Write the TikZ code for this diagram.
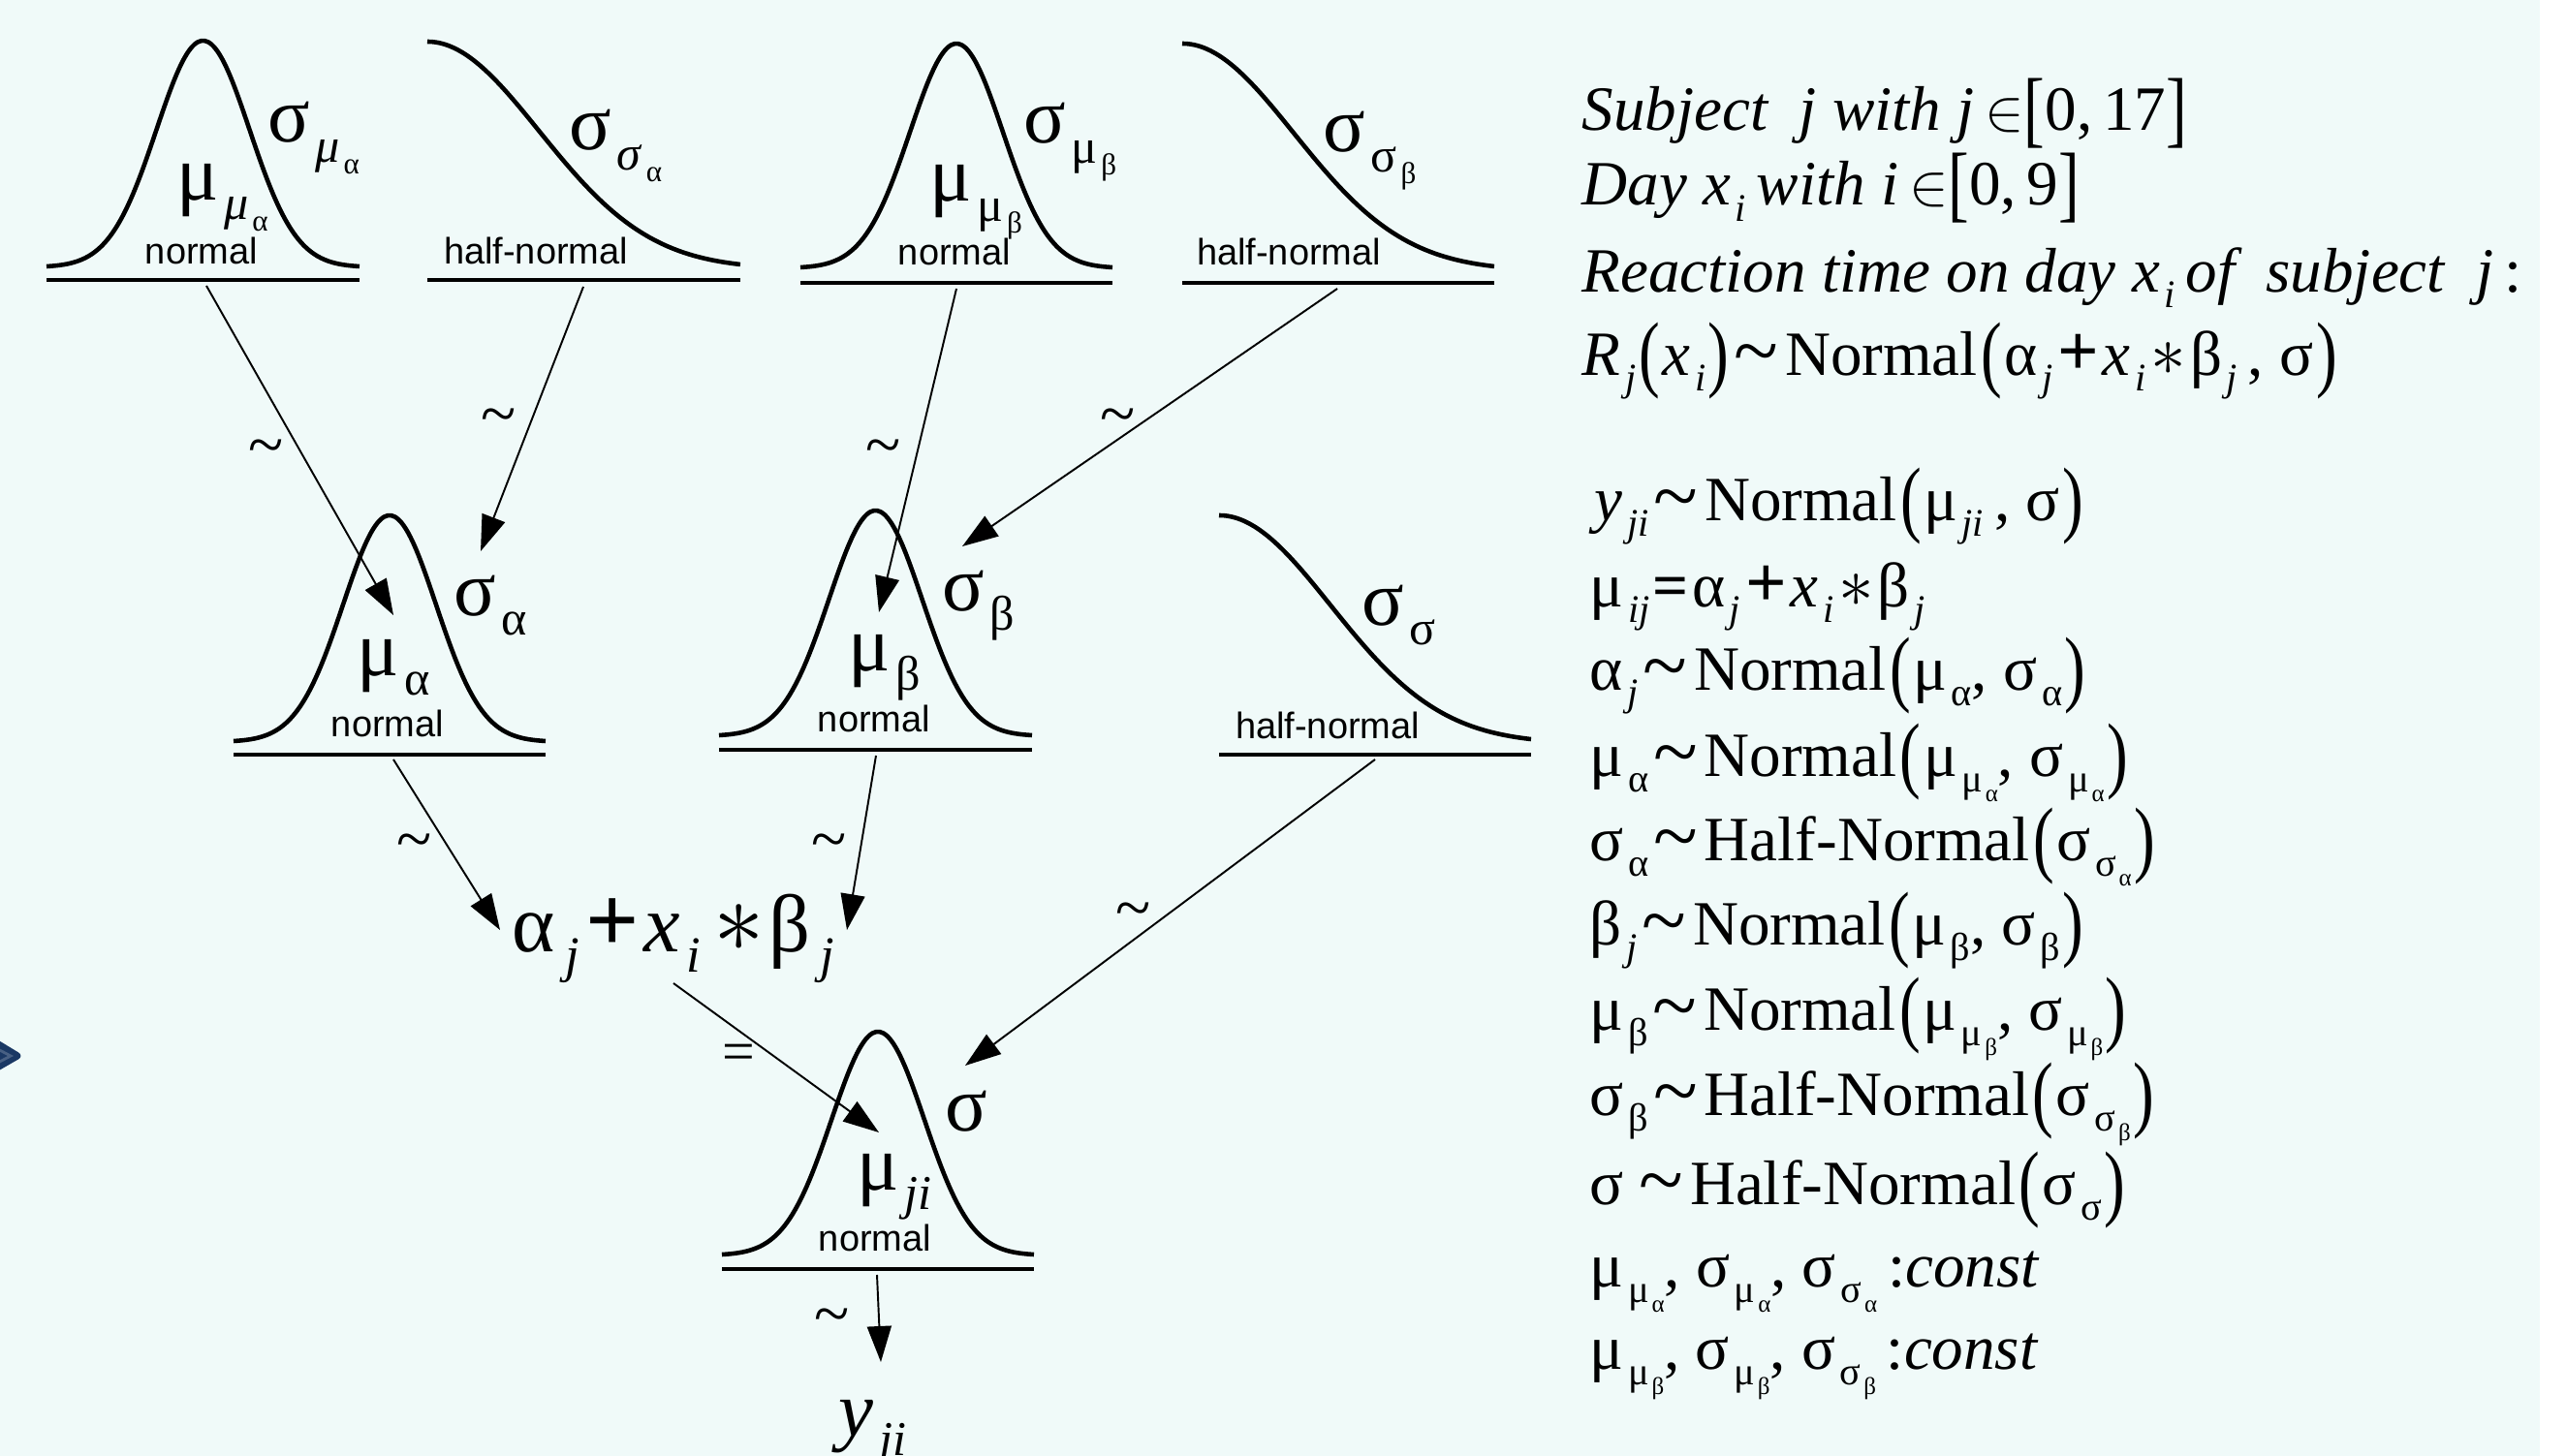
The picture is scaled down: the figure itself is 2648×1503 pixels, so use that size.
\documentclass[tikz,border=0pt]{standalone}
\usepackage{fontspec}
\setmainfont{Liberation Serif}
\newfontfamily\arialf{Liberation Sans}
\usetikzlibrary{arrows.meta}
\definecolor{bgc}{RGB}{240,250,249}
\definecolor{navy}{RGB}{26,56,100}
\newcommand\subx[1]{\hspace{0.07em}\raisebox{-0.25em}{\scalebox{0.62}{#1}}}
\newcommand\lp{\hspace{0.05em}\raisebox{-0.1em}{\scalebox{1}[1.34]{(}}\hspace{0.04em}}
\newcommand\rp{\hspace{0.04em}\raisebox{-0.1em}{\scalebox{1}[1.34]{)}}}
\newcommand\lbk{\raisebox{-0.1em}{\scalebox{1}[1.34]{[}}}
\newcommand\rbk{\raisebox{-0.1em}{\scalebox{1}[1.34]{]}}}
\newcommand\tld{\hspace{0.08em}\raisebox{-0.05em}{\scalebox{1.3}{\textasciitilde}}\hspace{0.1em}}
\newcommand\pls{\hspace{0.08em}\scalebox{1.15}{\textbf{+}}\hspace{0.06em}}
\newcommand\astk{\hspace{0.08em}\scalebox{1.2}{$\ast$}\hspace{0.06em}}
\newcommand\normc[4]{\draw[curve] plot[domain=-3.36:3.36,samples=90,smooth] ({#1+#3/2+#3/6.72*\x},{#2-#4*exp(-0.5*(\x)*(\x))});}
\newcommand\halfc[4]{\draw[curve] plot[domain=0:2.8,samples=70,smooth] ({#1+#3/2.8*\x},{#2-#4*exp(-0.5*(\x)*(\x))});}
\begin{document}
\begin{tikzpicture}[x=0.01cm,y=-0.01cm,
  curve/.style={line width=1.3pt},
  uline/.style={line width=1pt},
  conn/.style={line width=0.55pt,-{Triangle[length=3.7mm,width=2.5mm]}},
  gk/.style={font=\fontsize{23}{23}\selectfont,inner sep=0,anchor=base west},
  lab/.style={font=\arialf\fontsize{10.8}{11}\selectfont,inner sep=0,anchor=base},
  tl/.style={font=\fontsize{19}{19}\selectfont,inner sep=0},
  rt/.style={font=\fontsize{18.5}{18.5}\selectfont,inner sep=0,anchor=base west},
  expr/.style={font=\fontsize{24}{24}\selectfont,inner sep=0,anchor=base west}]
\useasboundingbox (0,0) rectangle (2648,1503);
\fill[white] (0,0) rectangle (2648,1503);
\fill[bgc] (0,0) rectangle (2621,1503);
% left chevron
\fill[navy,rounded corners=2pt] (-8,1070) -- (25,1090) -- (-8,1109) -- cycle;
\draw[navy!80!white,line width=0.8pt] (-8,1080) -- (11,1090) -- (-8,1100);
% ---------- top row ----------
\normc{48}{275.8}{323}{233.8}
\draw[uline] (48,289) -- (371,289);
\node[gk] (n1mu) at (182,206) {μ\subx{\textit{μ}\subx{α}}};
\node[gk] (n1sg) at (276,147) {σ\subx{\textit{μ}\subx{α}}};
\node[lab] (n1lab) at (208,272) {normal};
\coordinate (n1out) at (213,295);
\halfc{441}{277.6}{323}{234.6}
\draw[uline] (441,289) -- (764,289);
\node[gk] (h1sg) at (587,155) {σ\subx{\textit{σ}\subx{α}}};
\node[lab] (h1lab) at (553,272) {half-normal};
\coordinate (h1out) at (602,296);
\normc{826}{276.8}{322}{231.8}
\draw[uline] (826,292) -- (1148,292);
\node[gk] (n2mu) at (959,208) {μ\subx{μ\subx{β}}};
\node[gk] (n2sg) at (1056,148) {σ\subx{μ\subx{β}}};
\node[lab] (n2lab) at (985,274) {normal};
\coordinate (n2out) at (987,298);
\halfc{1220}{279.6}{322}{234.6}
\draw[uline] (1220,292) -- (1542,292);
\node[gk] (h2sg) at (1365,157) {σ\subx{σ\subx{β}}};
\node[lab] (h2lab) at (1330,274) {half-normal};
\coordinate (h2out) at (1380,298);
% ---------- middle row ----------
\normc{241}{765.8}{322}{233.8}
\draw[uline] (241,779) -- (563,779);
\node[gk] (n3mu) at (368,697) {μ\subx{α}};
\node[gk] (n3sg) at (468,635) {σ\subx{α}};
\node[lab] (n3lab) at (400,760) {normal};
\coordinate (n3inmu) at (406,635);
\coordinate (n3insg) at (496,569);
\coordinate (n3out) at (406,784);
\normc{742}{759.8}{323}{232.8}
\draw[uline] (742,774) -- (1065,774);
\node[gk] (n4mu) at (875,692) {μ\subx{β}};
\node[gk] (n4sg) at (972,630) {σ\subx{β}};
\node[lab] (n4lab) at (902,755) {normal};
\coordinate (n4inmu) at (907,632);
\coordinate (n4insg) at (993,564);
\coordinate (n4out) at (904,780);
\halfc{1258}{767.7}{322}{235.7}
\draw[uline] (1258,779) -- (1580,779);
\node[gk] (h3sg) at (1405,645) {σ\subx{σ}};
\node[lab] (h3lab) at (1370,762) {half-normal};
\coordinate (h3out) at (1419,784);
% ---------- expression ----------
\node[expr] (ex) at (528,982) {α\hspace{0.05em}\subx{\textit{j}}\pls\textit{x}\subx{\textit{i}}\hspace{0.08em}\astk β\hspace{0.05em}\subx{\textit{j}}};
\coordinate (exinl) at (516,960);
\coordinate (exinr) at (874,960);
\coordinate (exout) at (695,1015);
% ---------- bottom ----------
\normc{745}{1295.8}{322}{230.8}
\draw[uline] (745,1310) -- (1067,1310);
\node[gk] (n5mu) at (884,1228) {μ\subx{\textit{ji}}};
\node[gk] (n5sg) at (975,1167) {σ};
\node[lab] (n5lab) at (903,1291) {normal};
\coordinate (n5inmu) at (907,1169);
\coordinate (n5insg) at (996,1100);
\coordinate (n5out) at (905,1316);
\node[gk] (y) at (865,1482) {\textit{y}\subx{\textit{ji}}};
\coordinate (yin) at (909,1406);
% ---------- connectors ----------
\draw[conn] (n1out) -- (n3inmu);
\draw[conn] (h1out) -- (n3insg);
\draw[conn] (n2out) -- (n4inmu);
\draw[conn] (h2out) -- (n4insg);
\draw[conn] (h3out) -- (n5insg);
\draw[conn] (n3out) -- (exinl);
\draw[conn] (n4out) -- (exinr);
\draw[conn] (exout) -- (n5inmu);
\draw[conn] (n5out) -- (yin);
\node[tl] (t1) at (275,468) {\textasciitilde};
\node[tl] (t2) at (515,436) {\textasciitilde};
\node[tl] (t3) at (912,468) {\textasciitilde};
\node[tl] (t4) at (1154,436) {\textasciitilde};
\node[tl] (t5) at (1170,946) {\textasciitilde};
\node[tl] (t6) at (428,875) {\textasciitilde};
\node[tl] (t7) at (856,875) {\textasciitilde};
\node[tl] (t9) at (859,1365) {\textasciitilde};
\node[font=\fontsize{17}{17}\selectfont,inner sep=0] (eq) at (762,1092) {=};
% ---------- right text ----------
\node[rt] (r1) at (1632,135) {\textit{Subject\enspace j with j}\,$\in$\lbk0,\,17\rbk};
\node[rt] (r2) at (1632,212) {\textit{Day x}\subx{\textit{i}}\,\textit{with i}\,$\in$\lbk0,\,9\rbk};
\node[rt] (r3) at (1632,301) {\textit{Reaction time on day x}\subx{\textit{i}}\,\textit{of\enspace subject\enspace j}\,:};
\node[rt] (r4) at (1632,387) {\textit{R}\subx{\textit{j}}\lp\textit{x}\subx{\textit{i}}\rp\tld Normal\lp α\subx{\textit{j}}\pls\textit{x}\subx{\textit{i}}\astk β\subx{\textit{j}}\,, σ\rp};
\node[rt] (r5) at (1645,537) {\textit{y}\subx{\textit{ji}}\tld Normal\lp μ\subx{\textit{ji}}\,, σ\rp};
\node[rt] (r6) at (1640,626) {μ\subx{\textit{ij}}\hspace{0.05em}\textbf{=}\hspace{0.05em}α\subx{\textit{j}}\pls\textit{x}\subx{\textit{i}}\astk β\subx{\textit{j}}};
\node[rt] (r7) at (1640,712) {α\subx{\textit{j}}\tld Normal\lp μ\subx{α}, σ\subx{α}\rp};
\node[rt] (r8) at (1640,801) {μ\subx{α}\tld Normal\lp μ\subx{μ\subx{α}}, σ\subx{μ\subx{α}}\rp};
\node[rt] (r9) at (1640,888) {σ\subx{α}\tld Half-Normal\lp σ\subx{σ\subx{α}}\rp};
\node[rt] (r10) at (1640,975) {β\subx{\textit{j}}\tld Normal\lp μ\subx{β}, σ\subx{β}\rp};
\node[rt] (r11) at (1640,1063) {μ\subx{β}\tld Normal\lp μ\subx{μ\subx{β}}, σ\subx{μ\subx{β}}\rp};
\node[rt] (r12) at (1640,1151) {σ\subx{β}\tld Half-Normal\lp σ\subx{σ\subx{β}}\rp};
\node[rt] (r13) at (1640,1243) {σ\,\tld Half-Normal\lp σ\subx{σ}\rp};
\node[rt] (r14) at (1640,1328) {μ\subx{μ\subx{α}}, σ\subx{μ\subx{α}}, σ\subx{σ\subx{α}}\,:\textit{const}};
\node[rt] (r15) at (1640,1413) {μ\subx{μ\subx{β}}, σ\subx{μ\subx{β}}, σ\subx{σ\subx{β}}\,:\textit{const}};
\end{tikzpicture}
\end{document}
